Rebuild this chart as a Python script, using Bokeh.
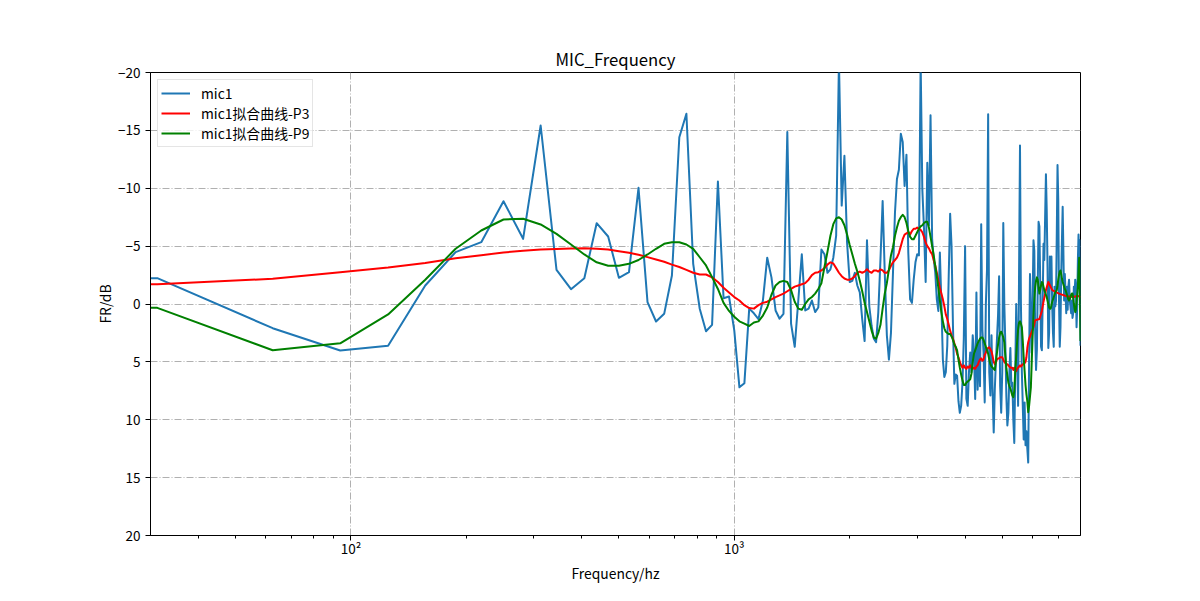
from bokeh.plotting import figure
from bokeh.models import Range1d, FixedTicker
from bokeh.embed import file_html
from bokeh.resources import INLINE

# ---------------- data ----------------
BIN_HZ = 31.25          # FFT bin spacing
DC_HZ = 1e-3            # the 0 Hz bin, clipped on the log axis (as matplotlib does)

mic1_bins = list(range(1, 257))
mic1_db = [
    -2.23, 2.09, 4.02, 3.6, -1.6, -4.48, -5.34, -8.88, -5.63, -15.42,
    -2.95, -1.28, -2.23, -6.98, -5.83, -2.26, -2.75, -10.04, -0.16, 1.51,
    0.85, -2.46, -14.41, -16.43, -3.47, 0.41, 2.35, 1.8, -10.58, -0.5,
    -0.65, 2.3, 7.2, 6.84, 0.4, 0.8, 1.3, -0.3, -4.0, -2.3,
    0.56, 1.27, 0.85, -14.85, 1.7, 3.7, -0.3, -4.3, 0.56, 0.4,
    -0.3, 0.7, 0.3, -4.7, -4.3, -2.7, -3.0, -4.0, -5.9, -21.0,
    -8.5, -12.8, -5.3, -1.9, -2.0, -2.7, -1.6, -1.0, 1.3, 3.2,
    -5.5, 0.2, 1.9, 3.0, 3.3, 0.7, -3.9, -8.9, -2.7, 2.7,
    4.8, 2.5, -2.7, -7.9, -10.8, -11.6, -14.7, -14.0, -10.2, -12.9,
    -4.45, -0.4, -0.1, -2.1, -3.6, -4.3, -4.2, -21.0, -9.9, -6.5,
    -1.9, -12.2, -6.8, -16.3, -5.6, -3.9, -2.7, -0.4, 0.6, -4.45,
    -0.1, 4.8, 6.3, 5.9, 3.6, -2.4, -7.8, -5.0, 1.9, 6.9,
    6.1, 6.2, 8.4, 9.4, 8.8, 6.8, 3.0, -5.0, 8.2, 8.8,
    5.9, 4.2, 5.9, 2.7, 4.2, 8.2, -1.0, 7.4, 3.3, 7.1,
    -6.9, 2.2, 4.2, 8.5, 0.0, -3.0, -16.4, 5.9, 7.9, 2.7,
    7.6, 11.1, 7.4, 5.0, 3.0, 1.0, -2.4, 7.1, 9.4, 5.9,
    -7.0, 0.0, 3.5, 8.0, 10.5, 9.4, 5.9, 3.8, 7.1, 6.8,
    10.0, 12.0, 5.9, 0.0, 4.4, 8.8, -2.8, -13.7, 0.0, 5.9,
    8.8, 11.7, 8.5, 12.2, 11.0, 12.5, 13.7, 5.0, -2.6, 1.1,
    4.2, -0.3, -5.5, -4.6, 2.5, 5.7, 4.0, -1.5, -7.1, -6.7,
    -1.8, 3.7, 4.0, -0.3, -5.2, -3.8, -7.5, -11.2, -8.1, -3.2,
    3.8, 2.5, -4.1, -1.5, -4.1, 0.2, 2.5, 3.7, -1.5, 0.2,
    -0.3, -6.1, -12.0, -9.0, -0.3, 3.7, 2.0, -2.6, -5.5, -8.4,
    -4.6, -0.3, -2.6, -0.9, 0.8, -1.5, 0.5, -1.5, -2.1, -0.3,
    0.2, 0.8, -0.3, 1.2, 0.8, -1.5, -0.6, -2.1, -1.5, 2.0,
    0.2, -3.8, -6.0, -3.8, -5.5, 3.6,
]
mic1_dc_db = -2.23

p3_bins = list(range(1, 191)) + [193, 195, 200, 203, 205, 208, 211, 216, 225, 234, 244, 252, 256]
p3_db = [
    -1.7, -2.18, -2.75, -3.15, -3.55, -3.95, -4.22, -4.45, -4.6, -4.7,
    -4.76, -4.8, -4.82, -4.78, -4.7, -4.55, -4.42, -4.25, -4.05, -3.85,
    -3.65, -3.4, -3.2, -2.95, -2.7, -2.55, -2.55, -2.3, -1.9, -1.4,
    -1.0, -0.6, -0.3, 0.1, 0.35, 0.4, 0.1, -0.1, -0.2, -0.4,
    -0.6, -0.75, -0.9, -1.1, -1.3, -1.5, -1.6, -1.7, -1.8, -2.1,
    -2.5, -2.7, -2.75, -2.9, -3.1, -3.4, -3.6, -3.5, -3.1, -2.7,
    -2.4, -2.2, -2.1, -2.1, -2.2, -2.4, -2.7, -2.8, -2.7, -2.8,
    -3.0, -2.8, -2.7, -2.9, -2.9, -2.8, -3.0, -2.9, -2.7, -2.7,
    -2.9, -3.3, -3.6, -3.8, -4.0, -4.4, -5.0, -5.6, -6.0, -6.1,
    -6.2, -6.0, -6.3, -6.5, -6.5, -6.6, -6.5, -6.4, -6.2, -5.8,
    -5.3, -5.0, -4.8, -4.5, -4.3, -3.8, -3.3, -2.7, -2.0, -1.4,
    -0.9, -0.4, 0.2, 0.9, 1.3, 1.8, 2.3, 2.7, 3.0, 3.4,
    3.8, 4.3, 4.6, 5.0, 5.3, 5.5, 5.3, 5.5, 5.6, 5.4,
    5.5, 5.3, 5.5, 5.6, 5.5, 5.6, 5.4, 5.3, 5.0, 4.8,
    4.7, 4.9, 4.8, 4.4, 4.2, 3.9, 3.8, 3.75, 3.9, 4.1,
    4.5, 5.0, 5.2, 5.0, 4.8, 4.7, 4.7, 4.6, 4.6, 4.6,
    4.8, 5.0, 5.1, 5.2, 5.2, 5.3, 5.4, 5.5, 5.5, 5.5,
    5.7, 5.5, 5.6, 5.8, 5.6, 5.5, 5.4, 5.3, 5.4, 5.3,
    5.2, 5.2, 5.1, 5.0, 4.6, 3.8, 3.3, 3.0, 2.8, 2.6,
    2.0, 1.4, 1.3, 0.6, -0.2, -1.2, -1.9, -1.2, -0.9, -0.7, -0.6, -0.7, -0.6,
]
p3_dc_db = -1.7

p9_bins = list(range(1, 257))
p9_db = [
    0.33, 4.0, 3.4, 0.9, -2.1, -4.77, -6.35, -7.3, -7.36, -6.87,
    -6.06, -5.14, -4.28, -3.6, -3.3, -3.3, -3.47, -3.8, -4.28, -4.77,
    -5.2, -5.34, -5.34, -5.14, -4.77, -4.04, -3.33, -2.32, -1.3, -0.1,
    0.6, 1.1, 1.5, 1.7, 1.9, 1.6, 1.5, 1.0, 0.3, -0.8,
    -1.6, -1.9, -2.0, -1.9, -1.2, -0.2, 0.4, 0.5, 0.0, -0.4,
    -0.6, -0.9, -1.3, -1.8, -3.2, -4.5, -5.9, -6.9, -7.4, -7.5,
    -7.3, -6.8, -6.0, -5.1, -4.3, -3.5, -2.8, -2.0, -1.1, -0.1,
    0.7, 1.5, 2.3, 2.9, 3.0, 2.5, 1.8, 0.4, -0.9, -1.8,
    -3.0, -4.2, -4.9, -5.9, -6.6, -7.2, -7.5, -7.7, -7.5, -7.0,
    -6.3, -5.8, -5.6, -5.6, -5.9, -6.2, -6.5, -6.7, -6.8, -7.0,
    -7.1, -7.1, -6.6, -5.8, -5.0, -4.2, -3.3, -2.4, -1.4, -0.3,
    0.7, 1.5, 2.1, 2.4, 2.5, 2.6, 2.6, 2.8, 3.1, 3.5,
    3.7, 4.0, 4.8, 5.5, 6.1, 6.6, 7.0, 7.0, 6.8, 6.7,
    6.6, 6.5, 6.0, 5.0, 4.3, 4.0, 3.7, 3.4, 3.2, 3.0,
    2.9, 2.9, 3.1, 3.4, 3.7, 4.0, 4.3, 4.8, 5.2, 5.4,
    5.5, 5.6, 5.7, 5.0, 4.2, 3.5, 2.9, 2.5, 2.4, 2.6,
    2.9, 3.3, 4.5, 5.5, 6.2, 6.8, 7.1, 7.3, 7.6, 7.9,
    8.05, 7.5, 5.8, 4.5, 3.2, 2.2, 1.6, 1.5, 1.7, 2.0,
    3.2, 4.6, 5.8, 7.0, 7.8, 8.4, 9.35, 8.8, 8.0, 7.2,
    5.0, 2.8, 1.0, -0.5, -1.45, -2.0, -2.3, -2.1, -1.5, -0.9,
    -1.2, -1.6, -1.9, -1.8, -1.5, -1.2, -1.0, -0.8, -0.6, -0.3,
    0.0, 0.3, 0.4, 0.4, 0.1, -0.2, -0.4, -0.6, -0.8, -1.0,
    -1.1, -1.2, -1.6, -2.1, -2.5, -2.8, -2.9, -2.6, -2.2, -1.9,
    -1.7, -1.5, -1.3, -1.2, -1.0, -0.8, -0.6, -0.4, -0.3, -0.4,
    -0.6, -0.8, -0.9, -0.9, -0.5, 0.0, 0.4, 0.7, 0.5, -0.2,
    -0.8, -1.45, -2.8, -4.0, -1.0, 3.2,
]
p9_dc_db = 0.33

y_ticks = [-20, -15, -10, -5, 0, 5, 10, 15, 20]
x_major_ticks = [100, 1000]
x_minor_ticks = [40, 50, 60, 70, 80, 90, 200, 300, 400, 500, 600, 700, 800, 900,
                 2000, 3000, 4000, 5000, 6000, 7000]
x_tick_labels = {100: "10²", 1000: "10³"}

series_names = ["mic1", "mic1拟合曲线-P3", "mic1拟合曲线-P9"]
series_colors = ["#1f77b4", "#ff0000", "#008000"]

FONT = "Noto Sans CJK SC"


def freqs(bins):
    return [DC_HZ] + [BIN_HZ * k for k in bins]


# ---------------- figure ----------------
p = figure(
    x_axis_type="log",
    x_range=Range1d(30, 8000),
    y_range=Range1d(20, -20),
    frame_width=930, frame_height=463,
    min_border_left=150, min_border_top=72,
    min_border_right=100, min_border_bottom=56,
    output_backend="svg", toolbar_location=None,
    title="MIC_Frequency",
)
p.background_fill_color = "white"
p.border_fill_color = "white"
p.outline_line_color = "black"
p.outline_line_width = 1
p.outline_line_alpha = 1

p.title.align = "center"
p.title.text_font = FONT
p.title.text_font_size = "16.7px"
p.title.text_font_style = "normal"
p.title.text_color = "black"
p.title.standoff = 4

data = [
    (freqs(mic1_bins), [mic1_dc_db] + mic1_db),
    (freqs(p3_bins), [p3_dc_db] + p3_db),
    (freqs(p9_bins), [p9_dc_db] + p9_db),
]
for (xs, ys), name, col in zip(data, series_names, series_colors):
    p.line(xs, ys, line_color=col, line_width=2, line_join="round", legend_label=name)

# axes
p.xaxis.ticker = FixedTicker(ticks=x_major_ticks, minor_ticks=x_minor_ticks)
p.xaxis.major_label_overrides = x_tick_labels
p.yaxis.ticker = FixedTicker(ticks=y_ticks)
for ax in (p.xaxis, p.yaxis):
    ax.axis_line_color = "black"
    ax.major_tick_line_color = "black"
    ax.minor_tick_line_color = "black"
    ax.major_tick_out = 5
    ax.major_tick_in = 0
    ax.minor_tick_out = 3
    ax.minor_tick_in = 0
    ax.major_label_text_font = FONT
    ax.major_label_text_font_size = "13.5px"
    ax.major_label_text_color = "black"
    ax.axis_label_text_font = FONT
    ax.axis_label_text_font_size = "13.9px"
    ax.axis_label_text_font_style = "normal"
    ax.axis_label_text_color = "black"
p.yaxis.minor_tick_line_color = None
p.xaxis.major_label_standoff = -3
p.xaxis.axis_label_standoff = 2
p.yaxis.major_label_standoff = 5
p.yaxis.axis_label_standoff = 0
p.xaxis.axis_label = "Frequency/hz"
p.yaxis.axis_label = "FR/dB"

# grid
for g in (p.xgrid, p.ygrid):
    g.grid_line_color = "#b0b0b0"
    g.grid_line_width = 1
    g.grid_line_dash = "7 2 1 2"
p.xgrid.minor_grid_line_color = None

# legend
lg = p.legend[0]
lg.location = "top_left"
lg.margin = 7
lg.padding = 3
lg.spacing = 0
lg.glyph_width = 29
lg.glyph_height = 16
lg.label_height = 16
lg.label_standoff = 11
lg.label_text_font = FONT
lg.label_text_font_size = "13.9px"
lg.label_text_color = "black"
lg.border_line_color = "#cccccc"
lg.border_line_width = 1
lg.background_fill_color = "white"
lg.background_fill_alpha = 0.8

open("out.html", "w").write(file_html(p, INLINE))
